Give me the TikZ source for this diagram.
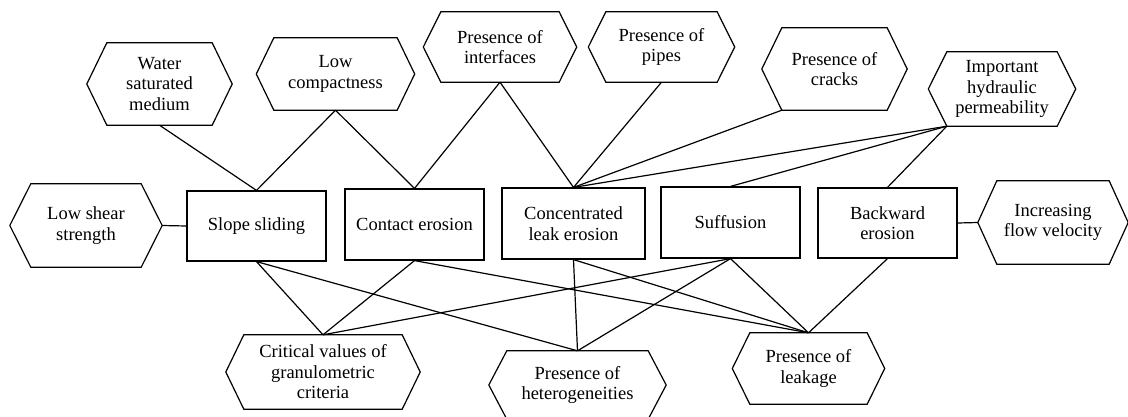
\documentclass[tikz,border=0pt]{standalone}
\usepackage{fontspec}
\setmainfont{Liberation Serif}
\usetikzlibrary{calc}
\begin{document}
\begin{tikzpicture}[x=1pt,y=-1pt,
  every node/.style={inner sep=0pt, align=center, font=\fontsize{18.5}{20.5}\selectfont},
  hexbody/.style={draw=none},
  box/.style={draw, line width=1.2pt},
  link/.style={line width=1.2pt}]
\clip (0,0) rectangle (1128,416);
\fill[white] (0,0) rectangle (1128,416);
% hexagon bodies
\node[hexbody, minimum width=105pt, minimum height=82pt] (wsm) at (159.5,84) {Water\\saturated\\medium};
\node[hexbody, minimum width=123pt, minimum height=72pt] (lc) at (335.5,74) {Low\\compactness};
\node[hexbody, minimum width=118pt, minimum height=70pt] (poi) at (500,47) {Presence of\\interfaces};
\node[hexbody, minimum width=111pt, minimum height=70pt] (pop) at (661.5,47) {Presence of\\pipes};
\node[hexbody, minimum width=105pt, minimum height=82pt] (poc) at (834.5,69) {Presence of\\cracks};
\node[hexbody, minimum width=110pt, minimum height=74pt] (ihp) at (1002,89) {Important\\hydraulic\\permeability};
\node[hexbody, minimum width=110pt, minimum height=83pt] (lss) at (86,225.5) {Low shear\\strength};
\node[hexbody, minimum width=112pt, minimum height=83pt] (ifv) at (1053,222.5) {Increasing\\flow velocity};
\node[hexbody, minimum width=158pt, minimum height=74pt] (cvg) at (323,372) {Critical values of\\granulometric\\criteria};
\node[hexbody, minimum width=141pt, minimum height=68pt] (poh) at (577.5,385) {Presence of\\heterogeneities};
\node[hexbody, minimum width=117pt, minimum height=71pt] (pol) at (808.5,368.5) {Presence of\\leakage};
% rectangles
\node[box, minimum width=139pt, minimum height=70pt] (ss) at (256.5,226) {Slope sliding};
\node[box, minimum width=139pt, minimum height=71pt] (ce) at (414.5,224.5) {Contact erosion};
\node[box, minimum width=143pt, minimum height=71pt] (cle) at (573.5,223.5) {Concentrated\\leak erosion};
\node[box, minimum width=139pt, minimum height=71pt] (suf) at (730.5,222.5) {Suffusion};
\node[box, minimum width=139pt, minimum height=70pt] (be) at (887.5,223) {Backward\\erosion};
% hexagon outlines
\foreach \n/\e in {wsm/20, lc/17.5, poi/17.5, pop/17.5, poc/20, ihp/18.5, lss/21, ifv/19, cvg/18, poh/18, pol/17.5} {
  \draw[link] (\n.north west) -- (\n.north east) -- ($(\n.east)+(\e,0)$) coordinate (\n-r)
    -- (\n.south east) -- (\n.south west) -- ($(\n.west)-(\e,0)$) coordinate (\n-l) -- cycle;
}
% upper connectors
\draw[link] (wsm.south) -- (ss.north);
\draw[link] (lc.south) -- (ss.north);
\draw[link] (lc.south) -- (ce.north);
\draw[link] (poi.south) -- (ce.north);
\draw[link] (poi.south) -- (cle.north);
\draw[link] (pop.south) -- (cle.north);
\draw[link] (poc.south west) -- (cle.north);
\draw[link] (ihp.south west) -- (cle.north);
\draw[link] (ihp.south west) -- (suf.north);
\draw[link] (ihp.south west) -- (be.north);
% side connectors
\draw[link] (lss-r) -- (ss.west);
\draw[link] (be.east) -- (ifv-l);
% lower connectors
\draw[link] (ss.south) -- (cvg.north);
\draw[link] (ss.south) -- (poh.north);
\draw[link] (ce.south) -- (cvg.north);
\draw[link] (ce.south) -- (pol.north);
\draw[link] (cle.south) -- (poh.north);
\draw[link] (cle.south) -- (pol.north);
\draw[link] (suf.south) -- (cvg.north);
\draw[link] (suf.south) -- (poh.north);
\draw[link] (suf.south) -- (pol.north);
\draw[link] (be.south) -- (pol.north);
\end{tikzpicture}
\end{document}
